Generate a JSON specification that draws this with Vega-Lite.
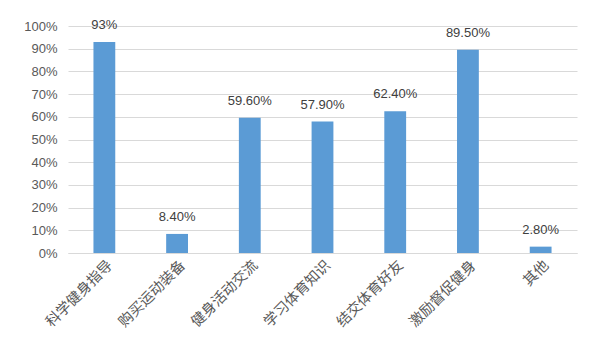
{
  "$schema": "https://vega.github.io/schema/vega-lite/v6.json",
  "autosize": "none",
  "width": 509,
  "height": 227,
  "padding": {"left": 68, "top": 26, "right": 37, "bottom": 102},
  "background": "white",
  "data": {
    "values": [
      {"category": "科学健身指导", "value": 0.93, "label": "93%"},
      {"category": "购买运动装备", "value": 0.084, "label": "8.40%"},
      {"category": "健身活动交流", "value": 0.596, "label": "59.60%"},
      {"category": "学习体育知识", "value": 0.579, "label": "57.90%"},
      {"category": "结交体育好友", "value": 0.624, "label": "62.40%"},
      {"category": "激励督促健身", "value": 0.895, "label": "89.50%"},
      {"category": "其他", "value": 0.028, "label": "2.80%"}
    ]
  },
  "config": {
    "view": {"stroke": null},
    "font": "Noto Sans CJK SC"
  },
  "encoding": {
    "x": {
      "field": "category",
      "type": "nominal",
      "sort": null,
      "scale": {"paddingInner": 0.7, "paddingOuter": 0.35},
      "axis": {
        "title": null,
        "labelAngle": -45,
        "labelAlign": "right",
        "labelBaseline": "middle",
        "labelFont": "Noto Sans CJK SC",
        "labelFontSize": 14.5,
        "labelColor": "#595959",
        "labelPadding": 10,
        "labelOffset": 6,
        "ticks": false,
        "domainColor": "#d9d9d9",
        "domainWidth": 1
      }
    },
    "y": {
      "field": "value",
      "type": "quantitative",
      "scale": {"domain": [0, 1], "nice": false},
      "axis": {
        "title": null,
        "format": ".0%",
        "values": [0, 0.1, 0.2, 0.3, 0.4, 0.5, 0.6, 0.7, 0.8, 0.9, 1],
        "domain": false,
        "ticks": false,
        "labelPadding": 11,
        "labelFont": "Liberation Sans",
        "labelFontSize": 13,
        "labelColor": "#595959",
        "gridColor": "#d9d9d9",
        "gridWidth": 1
      }
    }
  },
  "layer": [
    {"mark": {"type": "bar", "color": "#5b9bd5"}},
    {
      "mark": {"type": "text", "baseline": "bottom", "dy": -10, "fontSize": 13, "color": "#404040", "font": "Liberation Sans"},
      "encoding": {"text": {"field": "label"}}
    }
  ]
}
